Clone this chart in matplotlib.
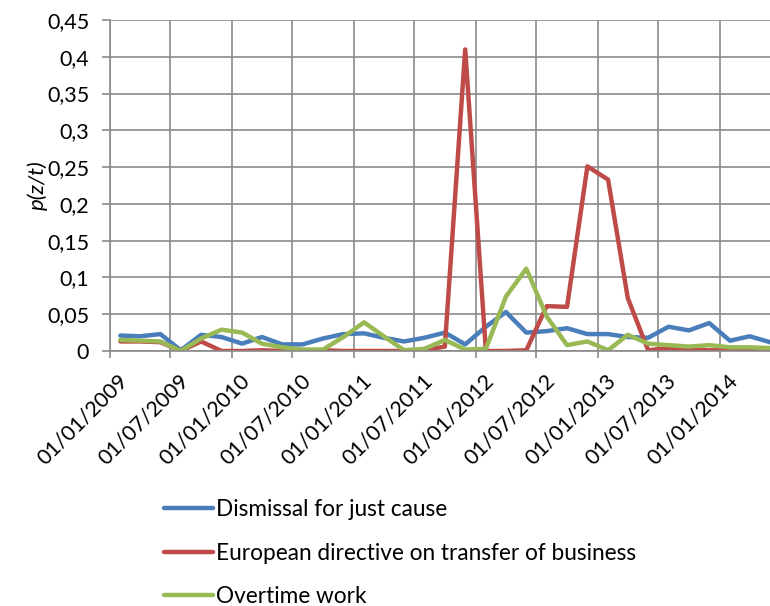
import matplotlib
matplotlib.use("Agg")
import matplotlib.pyplot as plt
import matplotlib.dates as mdates
import matplotlib.transforms as mtransforms
import pandas as pd

plt.rcParams['font.family'] = ['Lato', 'DejaVu Sans']

# Bi-monthly periods (each point placed at the start of the second month of the bin)
dates = pd.date_range('2009-02-01', periods=33, freq='2MS')

dismissal = [0.021, 0.020, 0.023, 0.001, 0.022, 0.019, 0.010, 0.019, 0.009, 0.009,
             0.017, 0.023, 0.024, 0.018, 0.013, 0.018, 0.025, 0.009, 0.033, 0.053,
             0.025, 0.027, 0.031, 0.023, 0.023, 0.019, 0.018, 0.033, 0.028, 0.038,
             0.014, 0.020, 0.012]
transfer = [0.013, 0.013, 0.012, 0.000, 0.013, 0.000, 0.000, 0.001, 0.000, 0.000,
            0.001, 0.000, 0.000, 0.000, 0.000, 0.001, 0.006, 0.410, 0.000, 0.000,
            0.001, 0.061, 0.060, 0.251, 0.233, 0.072, 0.001, 0.004, 0.002, 0.001,
            0.001, 0.001, 0.000]
overtime = [0.015, 0.014, 0.013, 0.000, 0.017, 0.029, 0.025, 0.010, 0.005, 0.002,
            0.002, 0.019, 0.039, 0.020, 0.001, 0.003, 0.015, 0.002, 0.003, 0.074,
            0.112, 0.047, 0.008, 0.013, 0.001, 0.022, 0.010, 0.008, 0.006, 0.008,
            0.005, 0.005, 0.004]

series_names = ["Dismissal for just cause",
                "European directive on transfer of business",
                "Overtime work"]
series_colors = ["#4A7EBB", "#BE4B48", "#98B954"]

y_ticks = [0, 0.05, 0.1, 0.15, 0.2, 0.25, 0.3, 0.35, 0.4, 0.45]
y_tick_labels = ["0", "0,05", "0,1", "0,15", "0,2", "0,25", "0,3", "0,35", "0,4", "0,45"]

FS = 15.5
LEG_FS = 16.3

fig = plt.figure(figsize=(7.7, 6.06), dpi=100)
ax = fig.add_axes([110 / 770, 1 - 351 / 606, 660 / 770, 331 / 606])

for vals, name, col in zip([dismissal, transfer, overtime], series_names, series_colors):
    ax.plot(dates, vals, color=col, lw=3.2, label=name,
            solid_joinstyle='round', solid_capstyle='round')

grid_col = "#8A8A8A"
ax.set_ylim(0, 0.45)
ax.set_xlim(pd.Timestamp('2009-01-01'), pd.Timestamp('2014-06-01'))
ax.set_yticks(y_ticks)
ax.set_yticklabels(y_tick_labels)
ax.xaxis.set_major_locator(mdates.MonthLocator(bymonth=[1, 7]))
ax.xaxis.set_major_formatter(mdates.DateFormatter('%d/%m/%Y'))

ax.grid(True, color=grid_col, lw=1.2)
ax.set_axisbelow(True)
for side in ['top', 'right']:
    ax.spines[side].set_visible(False)
for side in ['left', 'bottom']:
    ax.spines[side].set_color(grid_col)
    ax.spines[side].set_linewidth(1.2)

ax.tick_params(axis='y', length=6, width=1.2, color=grid_col, pad=9, labelsize=FS)
ax.tick_params(axis='x', length=5, width=1.2, color=grid_col, pad=9, labelsize=FS)

# rotated date labels, nudged so their upper end sits just right of each tick
shift = mtransforms.ScaledTranslation(8 / 100, 0, fig.dpi_scale_trans)
for lbl in ax.get_xticklabels():
    lbl.set_rotation(45)
    lbl.set_ha('right')
    lbl.set_va('top')
    lbl.set_rotation_mode('anchor')
    lbl.set_transform(lbl.get_transform() + shift)

ax.set_ylabel("p(z/t)", fontsize=FS + 0.5, style='italic')
ax.yaxis.set_label_coords(-0.094, 0.5)

ax.legend(loc='upper left', bbox_to_anchor=(164 / 770, 1 - 499 / 606),
          bbox_transform=fig.transFigure, frameon=False, fontsize=LEG_FS,
          handlelength=2.15, handletextpad=0.15, labelspacing=1.0,
          borderaxespad=0, borderpad=0)

fig.savefig("out.png", dpi=100)
